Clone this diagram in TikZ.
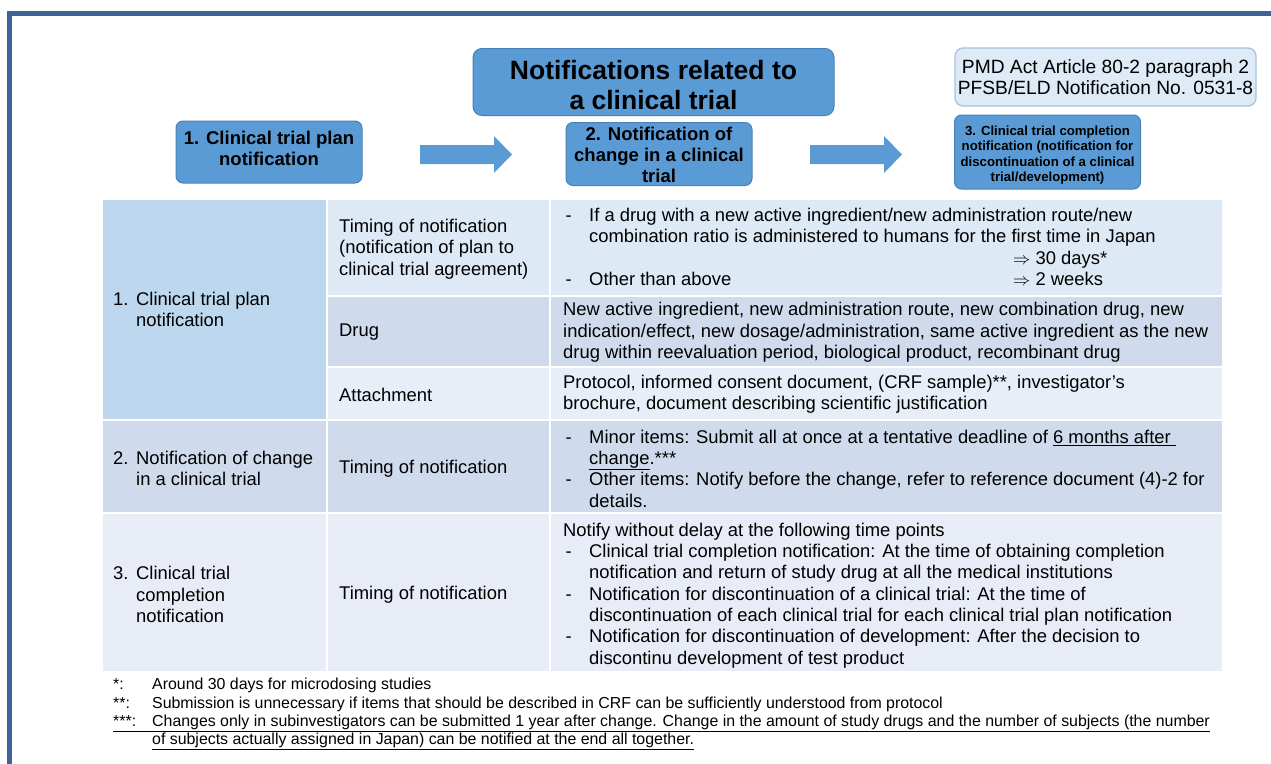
\documentclass[tikz,border=0pt]{standalone}
\usepackage{fontspec}
\setmainfont{Liberation Sans}
\usetikzlibrary{calc}
\definecolor{framec}{HTML}{3E6497}
\definecolor{boxfill}{HTML}{5B9BD5}
\definecolor{boxedge}{HTML}{4A80B8}
\definecolor{pmdfill}{HTML}{DEEAF6}
\definecolor{pmdedge}{HTML}{A9C2DF}
\definecolor{cone}{HTML}{BDD7EE}
\definecolor{ctime}{HTML}{DDE9F5}
\definecolor{cdrug}{HTML}{CFDBED}
\definecolor{catt}{HTML}{E8EEF7}
\definecolor{crowb}{HTML}{CFDBED}
\definecolor{crowc}{HTML}{E8ECF6}
\newcommand{\dsh}{\makebox[26pt][l]{\hspace*{2.5pt}-}}
\newcommand{\ind}{\hspace*{26pt}}
\tikzset{
  bluebox/.style={rounded corners=7pt, fill=boxfill, draw=boxedge, line width=1pt, inner sep=0pt},
  boxtext/.style={align=center, inner sep=0pt, font=\bfseries\fontsize{18.5}{21}\selectfont},
  pmdbox/.style={rounded corners=8pt, fill=pmdfill, draw=pmdedge, line width=1.3pt, align=center, inner sep=0pt, font=\fontsize{19.2}{21}\selectfont},
  txt/.style={inner sep=0pt, align=left, anchor=west, font=\fontsize{18.4}{21.3}\selectfont},
  foot/.style={inner sep=0pt, align=left, anchor=north west, font=\fontsize{15.9}{18.4}\selectfont},
  cellbg/.style={draw=white, line width=2pt},
  blockarrow/.style={fill=boxfill},
  framebox/.style={draw=framec, line width=4.5pt}
}
\begin{document}
\begin{tikzpicture}[x=1pt,y=-1pt]
\useasboundingbox (0,0) rectangle (1271,763);
\begin{scope}
\clip (0,0) rectangle (1271,763);
\draw[framebox] (9.5,800) -- (9.5,13.5) -- (1300,13.5);
\end{scope}

% top boxes
\node[bluebox, minimum width=361pt, minimum height=67pt, rounded corners=9pt] (title) at (653.5,82) {};
\node[boxtext, font=\bfseries\fontsize{26.5}{30}\selectfont] (titletxt) at ($(title.center)+(0,3)$) {Notifications related to\\a clinical trial};
\node[bluebox, minimum width=186pt, minimum height=62pt] (b1) at (269,152) {};
\node[boxtext] (b1txt) at ($(b1.center)+(0,-4)$) {1. Clinical trial plan\\notification};
\node[bluebox, minimum width=186pt, minimum height=63pt] (b2) at (659,154) {};
\node[boxtext] (b2txt) at ($(b2.center)+(0,1)$) {2. Notification of\\change in a clinical\\trial};
\node[bluebox, minimum width=186pt, minimum height=74pt] (b3) at (1047.5,152) {};
\node[boxtext, font=\bfseries\fontsize{13.2}{15.3}\selectfont] (b3txt) at ($(b3.center)+(0,3)$) {3. Clinical trial completion\\notification (notification for\\discontinuation of a clinical\\trial/development)};
\node[pmdbox, minimum width=301pt, minimum height=58pt] (pmd) at (1105.5,77) {PMD Act Article 80-2 paragraph 2\\PFSB/ELD Notification No. 0531-8};

% block arrows
\coordinate (a1) at (420,154.5);
\coordinate (a2) at (810,154.5);
\foreach \c in {a1,a2}{
  \fill[blockarrow] (\c) ++(0,-9.5) -- ++(74,0) -- ++(0,-9) -- ++(18,18.5) -- ++(-18,18.5) -- ++(0,-9) -- ++(-74,0) -- cycle;
}

% table backgrounds
\path[cellbg, fill=cone] (102,199) rectangle (327,420);
\path[cellbg, fill=ctime] (327,199) rectangle (550,296);
\path[cellbg, fill=ctime] (550,199) rectangle (1223,296);
\path[cellbg, fill=cdrug] (327,296) rectangle (550,367);
\path[cellbg, fill=cdrug] (550,296) rectangle (1223,367);
\path[cellbg, fill=catt] (327,367) rectangle (550,420);
\path[cellbg, fill=catt] (550,367) rectangle (1223,420);
\path[cellbg, fill=crowb] (102,420) rectangle (327,513);
\path[cellbg, fill=crowb] (327,420) rectangle (550,513);
\path[cellbg, fill=crowb] (550,420) rectangle (1223,513);
\path[cellbg, fill=crowc] (102,513) rectangle (327,672);
\path[cellbg, fill=crowc] (327,513) rectangle (550,672);
\path[cellbg, fill=crowc] (550,513) rectangle (1223,672);

% row 1
\node[txt] (r1c1) at (113,309.5) {\makebox[23pt][l]{1.}Clinical trial plan\\\hspace*{23pt}notification};
\node[txt] (r1c2) at (339,249) {Timing of notification\\(notification of plan to\\clinical trial agreement)};
\node[txt] (r1c3) at (563,247) {\dsh If a drug with a new active ingredient/new administration route/new\\
\ind combination ratio is administered to humans for the first time in Japan\\
\hspace*{450pt}$\Rightarrow$ 30 days*\\
\dsh\makebox[424pt][l]{Other than above}$\Rightarrow$ 2 weeks};
\node[txt] (r2c2) at (339,332.5) {Drug};
\node[txt] (r2c3) at (563,332.5) {New active ingredient, new administration route, new combination drug, new\\
indication/effect, new dosage/administration, same active ingredient as the new\\
drug within reevaluation period, biological product, recombinant drug};
\node[txt] (r3c2) at (339,394.5) {Attachment};
\node[txt] (r3c3) at (563,394.5) {Protocol, informed consent document, (CRF sample)**, investigator’s\\
brochure, document describing scientific justification};

% row 2
\node[txt] (r4c1) at (113,468.5) {\makebox[23pt][l]{2.}Notification of change\\\hspace*{23pt}in a clinical trial};
\node[txt] (r4c2) at (339,468.5) {Timing of notification};
\node[txt] (r4c3) at (563,468.5) {\dsh Minor items: Submit all at once at a tentative deadline of \underline{6 months after\ }\\
\ind\underline{change}.***\\
\dsh Other items: Notify before the change, refer to reference document (4)-2 for\\
\ind details.};

% row 3
\node[txt] (r5c1) at (113,594.5) {\makebox[23pt][l]{3.}Clinical trial\\\hspace*{23pt}completion\\\hspace*{23pt}notification};
\node[txt] (r5c2) at (339,595) {Timing of notification};
\node[txt] (r5c3) at (563,595.5) {Notify without delay at the following time points\\
\dsh Clinical trial completion notification: At the time of obtaining completion\\
\ind notification and return of study drug at all the medical institutions\\
\dsh Notification for discontinuation of a clinical trial: At the time of\\
\ind discontinuation of each clinical trial for each clinical trial plan notification\\
\dsh Notification for discontinuation of development: After the decision to\\
\ind discontinu development of test product};

% footnotes
\node[foot] (fn) at (113,678) {\makebox[39pt][l]{*:}Around 30 days for microdosing studies\\
\makebox[39pt][l]{**:}Submission is unnecessary if items that should be described in CRF can be sufficiently understood from protocol\\
\underline{\makebox[39pt][l]{***:}Changes only in subinvestigators can be submitted 1 year after change. Change in the amount of study drugs and the number of subjects (the number}\\
\hspace*{39pt}\underline{of subjects actually assigned in Japan) can be notified at the end all together.}};
\end{tikzpicture}
\end{document}
